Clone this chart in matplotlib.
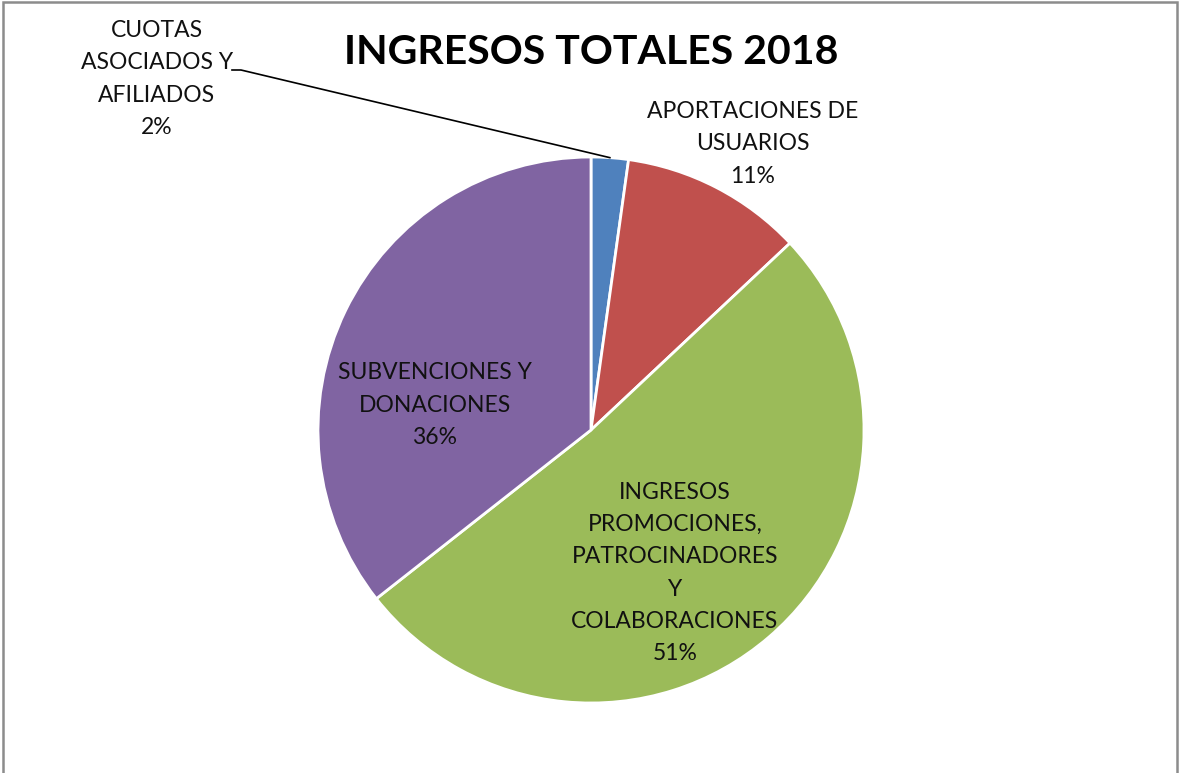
import numpy as np
import matplotlib
matplotlib.use("Agg")
import matplotlib.pyplot as plt
from matplotlib.patches import Rectangle

plt.rcParams["font.family"] = ["Lato", "DejaVu Sans"]

categories = ["CUOTAS\nASOCIADOS Y\nAFILIADOS",
              "APORTACIONES DE\nUSUARIOS",
              "INGRESOS\nPROMOCIONES,\nPATROCINADORES\nY\nCOLABORACIONES",
              "SUBVENCIONES Y\nDONACIONES"]
values = [2.2, 10.8, 51.4, 35.6]
colors = ["#4F81BD", "#C0504D", "#9BBB59", "#8064A2"]
title = "INGRESOS TOTALES 2018"

W, H = 1179, 773
fig = plt.figure(figsize=(W / 100, H / 100), dpi=100)
ax = fig.add_axes([0, 0, 1, 1])

cx, cy, r = 591, H - 430, 273
wedges, _ = ax.pie(values, colors=colors, startangle=90, counterclock=False,
                   center=(cx, cy), radius=r,
                   wedgeprops=dict(edgecolor="white", linewidth=2))
ax.set_xlim(0, W)
ax.set_ylim(0, H)
ax.set_aspect("equal")
ax.axis("off")

total = sum(values)
labels = [f"{c}\n{round(v / total * 100):.0f}%" for c, v in zip(categories, values)]

# label positions in pixels (x, y from top)
label_pos = [(157, 79), (753, 144), (675, 573), (435, 405)]
for lab, (x, y) in zip(labels, label_pos):
    ax.text(x, H - y, lab, ha="center", va="center", fontsize=16.5,
            linespacing=1.66, color="#111111")

# leader line for the small slice
w = wedges[0]
mid = np.deg2rad((w.theta1 + w.theta2) / 2)
ex, ey = cx + r * np.cos(mid), cy + r * np.sin(mid)
ax.plot([232, 241, ex], [H - 70, H - 70, ey], color="black", lw=1.2)

ax.text(591, H - 53, title, ha="center", va="center", fontsize=29.5,
        fontweight="bold", color="black")

fig.patches.append(Rectangle((3 / W, -0.1), (W - 5) / W, (H - 2) / H + 0.1,
                             transform=fig.transFigure, fill=False,
                             edgecolor="#8c8c8c", lw=1.8))

fig.savefig("out.png", dpi=100)
